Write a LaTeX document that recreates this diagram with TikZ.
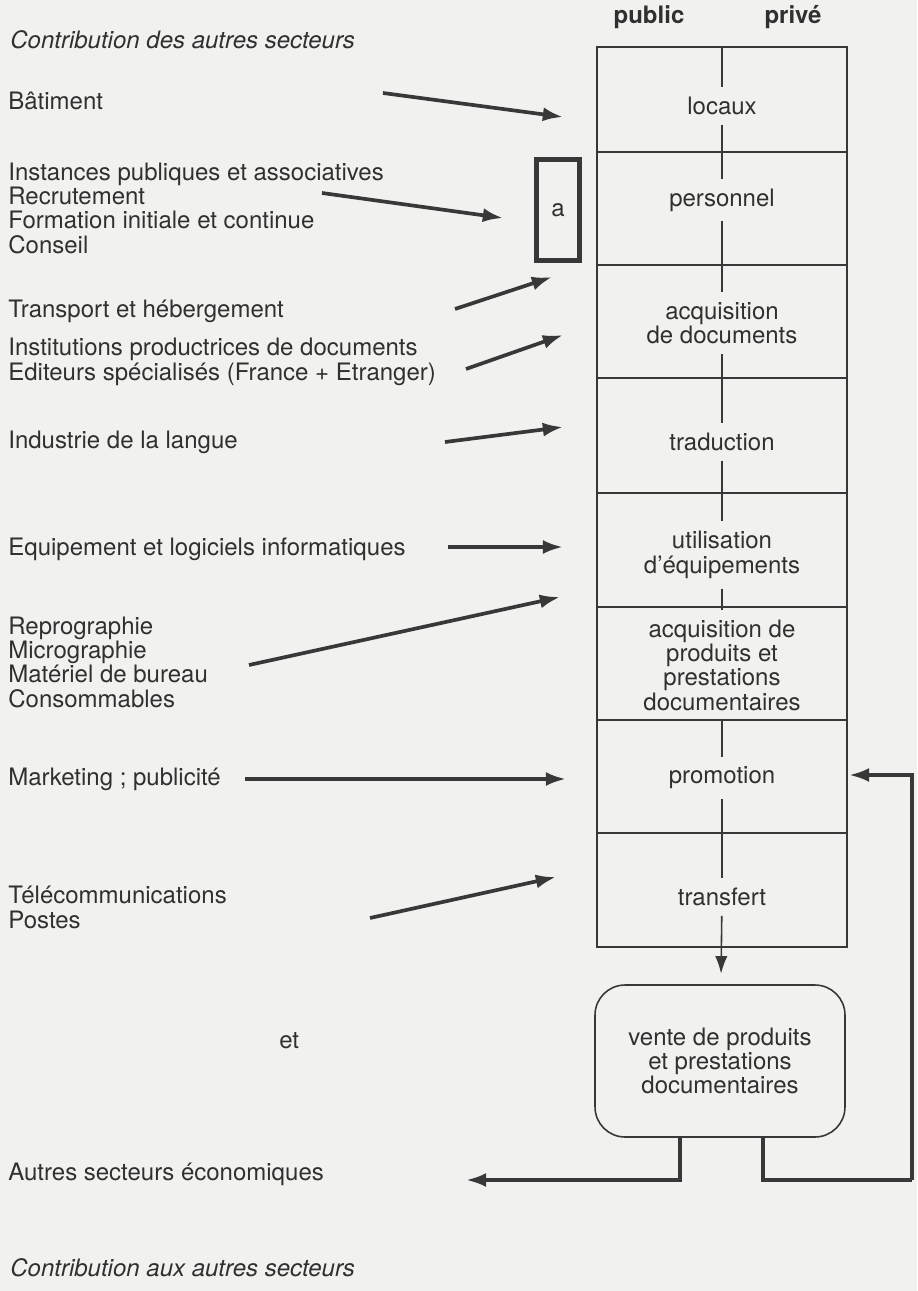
\documentclass[tikz,border=0pt]{standalone}
\usepackage{fontspec}
\setmainfont{TeX Gyre Heros}
\usetikzlibrary{arrows.meta}
\definecolor{ink}{HTML}{303030}
\definecolor{paper}{HTML}{F1F1EF}
\definecolor{lineg}{HTML}{383838}
\begin{document}
\begin{tikzpicture}[x=0.02cm,y=-0.02cm,
  every node/.style={font=\fontsize{13.66}{13.83}\selectfont, text=ink, inner sep=0pt},
  lbl/.style={anchor=base west, align=left},
  ital/.style={anchor=base west, font=\fontsize{13.66}{13.83}\selectfont\itshape},
  hdr/.style={anchor=base, font=\fontsize{13.66}{13.83}\selectfont\bfseries},
  cell/.style={anchor=center, align=center, inner ysep=5.5pt},
  fat/.style={draw=lineg, line width=2.1pt, -{Latex[length=11.5pt,width=8pt]}},
  fatline/.style={draw=lineg, line width=2.1pt},
  thin/.style={draw=lineg, line width=0.9pt},
]
\fill[paper] (0,0) rectangle (917,1291);
\useasboundingbox (0,0) rectangle (917,1291);

% header
\node[hdr] (pub) at (649,24) {public};
\node[hdr] (priv) at (793,24) {privé};

% main column box
\draw[thin] (597,47) rectangle (847,947);
\foreach \yy in {152,265,378,493,607,720,833}
  \draw[thin] (597,\yy) -- (847,\yy);
\coordinate (boxtop) at (722,47);

% cell texts
\node[cell] (locaux) at (722,106) {locaux};
\node[cell] (personnel) at (722,200) {personnel};
\node[cell] (acqdoc) at (722,323) {acquisition\\de documents};
\node[cell] (trad) at (722,442) {traduction};
\node[cell] (util) at (722,555) {utilisation\\d'équipements};
\node[cell] (acqprod) at (722,665) {acquisition de\\produits et\\prestations\\documentaires};
\node[cell] (promo) at (722,778) {promotion};
\node[cell] (transf) at (722,897) {transfert};

% rounded box
\node[draw=lineg, line width=0.9pt, rounded corners=0.6cm, minimum width=5cm,
      minimum height=3.04cm, align=center] (vente) at (720,1061)
      {vente de produits\\et prestations\\documentaires};

% vertical flow line
\draw[thin] (boxtop) -- (locaux);
\draw[thin] (locaux) -- (personnel);
\draw[thin] (personnel) -- (acqdoc);
\draw[thin] (acqdoc) -- (trad);
\draw[thin] (trad) -- (util);
\draw[thin] (util) -- (acqprod);
\draw[thin] (acqprod) -- (promo);
\draw[thin] (promo) -- (transf);
\draw[thin, -{Latex[length=10pt,width=7pt]}, shorten >=6pt] (transf) -- (vente);

% 'a' box
\node[draw=lineg, line width=2.3pt, minimum width=0.86cm, minimum height=2.02cm] (abox) at (558,210) {a};

% left labels (multi-line nodes are placed by the baseline of their last line)
\node[ital] (contribA) at (10,49) {Contribution des autres secteurs};
\node[lbl] (bat) at (8,110) {Bâtiment};
\node[lbl] (inst) at (8,253) {Instances publiques et associatives\\Recrutement\\Formation initiale et continue\\Conseil};
\node[lbl] (transp) at (8,317) {Transport et hébergement};
\node[lbl] (instit) at (8,380) {Institutions productrices de documents\\Editeurs spécialisés (France + Etranger)};
\node[lbl] (indus) at (8,448) {Industrie de la langue};
\node[lbl] (equip) at (8,555) {Equipement et logiciels informatiques};
\node[lbl] (repro) at (8,707) {Reprographie\\Micrographie\\Matériel de bureau\\Consommables};
\node[lbl] (market) at (8,785) {Marketing ; publicité};
\node[lbl] (telecom) at (8,928) {Télécommunications\\Postes};
\node[lbl] (et) at (279,1048) {et};
\node[lbl] (autres) at (8,1180) {Autres secteurs économiques};
\node[ital] (contribB) at (10,1276) {Contribution aux autres secteurs};

% arrow end points
\coordinate (a1s) at (383,93);  \coordinate (a1e) at (563,117);
\coordinate (a2s) at (322,193); \coordinate (a2e) at (503,218);
\coordinate (a3s) at (455,309); \coordinate (a3e) at (552,277);
\coordinate (a4s) at (466,369); \coordinate (a4e) at (563,335);
\coordinate (a5s) at (445,442); \coordinate (a5e) at (563,427);
\coordinate (a6s) at (448,547); \coordinate (a6e) at (563,547);
\coordinate (a7s) at (249,665); \coordinate (a7e) at (560,597);
\coordinate (a8s) at (245,779); \coordinate (a8e) at (566,779);
\coordinate (a9s) at (370,918); \coordinate (a9e) at (556,877);

\draw[fat] (a1s) -- (a1e);
\draw[fat] (a2s) -- (a2e);
\draw[fat] (a3s) -- (a3e);
\draw[fat] (a4s) -- (a4e);
\draw[fat] (a5s) -- (a5e);
\draw[fat] (a6s) -- (a6e);
\draw[fat] (a7s) -- (a7e);
\draw[fat] (a8s) -- (a8e);
\draw[fat] (a9s) -- (a9e);

% outputs of the rounded box
\coordinate (autresTip) at (466,1180);
\coordinate (loopR) at (912,1180);
\coordinate (promoIn) at (849,775);
\draw[fat] ([xshift=-0.8cm]vente.south) |- (autresTip);
\draw[fatline] ([xshift=0.86cm]vente.south) |- (loopR);
\draw[fat] (loopR) |- (promoIn);
\end{tikzpicture}
\end{document}
